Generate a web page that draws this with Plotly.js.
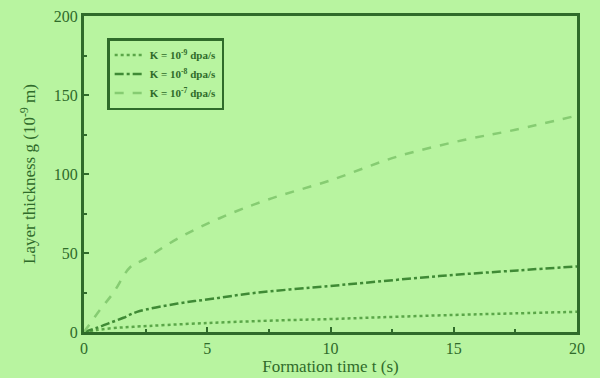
<!DOCTYPE html>
<html><head><meta charset="utf-8">
<script src="https://cdn.plot.ly/plotly-3.0.1.min.js"></script>
<style>html,body{margin:0;padding:0;background:#b8f4a0;}#chart{width:600px;height:378px;}</style>
</head><body><div id="chart"></div>
<script>
// Data
const seriesNames = ["K = 10<sup>-9</sup> dpa/s", "K = 10<sup>-8</sup> dpa/s", "K = 10<sup>-7</sup> dpa/s"];
const tK9 = [0, 0.5, 1.2, 2, 5, 8, 10, 12, 15, 17.5, 20];
const gK9 = [0, 1.2, 2.5, 3.3, 5.7, 7.4, 8.2, 9.3, 10.8, 11.8, 12.8];
const tK8 = [0, 0.5, 1.0, 1.6, 2.15, 3.8, 5.2, 6.9, 9.9, 11.3, 14.4, 17.6, 20];
const gK8 = [0, 2.5, 5.5, 9, 12.7, 18, 21, 24.7, 29, 31, 35.4, 39, 41.5];
const tK7 = [0, 0.65, 1.2, 1.87, 2.4, 3.9, 5.5, 7.4, 10, 12.7, 15.4, 17.5, 20];
const gK7 = [0, 14, 25, 41, 45.6, 60, 72, 83.5, 96, 111, 121.5, 128, 137];
const xTickVals = [0, 5, 10, 15, 20];
const yTickVals = [0, 50, 100, 150, 200];

const axisCol = "#2f6b2a";
const traces = [
  {x: tK9, y: gK9, name: seriesNames[0], mode: "lines", line: {color: "#5aa648", width: 2.5, dash: "dot", shape: "spline"}},
  {x: tK8, y: gK8, name: seriesNames[1], mode: "lines", line: {color: "#3f8a35", width: 2.5, dash: "dashdot", shape: "spline"}},
  {x: tK7, y: gK7, name: seriesNames[2], mode: "lines", line: {color: "#86cc72", width: 2.5, dash: "dash", shape: "spline"}}
];
const font = {family: "Liberation Serif, Times New Roman, serif", color: axisCol, size: 16};
const layout = {
  width: 600, height: 378,
  paper_bgcolor: "#b8f4a0", plot_bgcolor: "#b8f4a0",
  margin: {l: 84, r: 23, t: 16, b: 46},
  font: font,
  showlegend: true,
  legend: {x: 0.047, y: 0.93, xanchor: "left", yanchor: "top", bgcolor: "rgba(0,0,0,0)",
           bordercolor: axisCol, borderwidth: 2.5, font: {family: font.family, size: 11, color: axisCol, weight: "bold"},
           tracegroupgap: 0, itemwidth: 30},
  xaxis: {range: [0, 20], tickvals: xTickVals, ticktext: xTickVals.map(String),
          showline: true, mirror: true, linecolor: axisCol, linewidth: 3,
          ticks: "inside", ticklen: 5, tickwidth: 2, tickcolor: axisCol,
          minor: {ticks: "inside", dtick: 2.5, ticklen: 3, tickwidth: 2, tickcolor: axisCol},
          showgrid: false, zeroline: false, tickfont: {size: 16},
          title: {text: "Formation time t (s)", font: {size: 17}, standoff: 2}},
  yaxis: {range: [0, 200], tickvals: yTickVals, ticktext: yTickVals.map(String),
          showline: true, mirror: true, linecolor: axisCol, linewidth: 3,
          ticks: "inside", ticklen: 5, tickwidth: 2, tickcolor: axisCol,
          minor: {ticks: "inside", dtick: 25, ticklen: 3, tickwidth: 2, tickcolor: axisCol},
          showgrid: false, zeroline: false, tickfont: {size: 16},
          title: {text: "Layer thickness g (10<sup>-9</sup> m)", font: {size: 17}, standoff: 14}}
};
Plotly.newPlot("chart", traces, layout, {displayModeBar: false, staticPlot: true});
</script></body></html>
